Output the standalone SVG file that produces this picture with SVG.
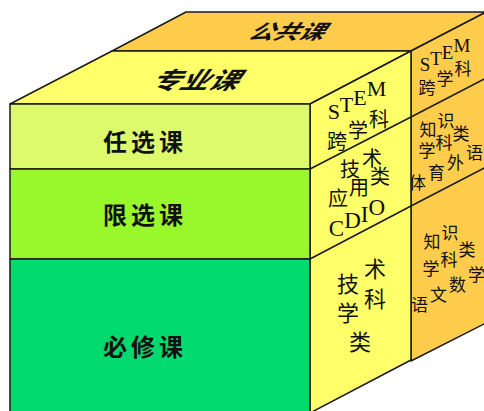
<svg xmlns="http://www.w3.org/2000/svg" width="484" height="411" viewBox="0 0 484 411">
<style>
.edge{stroke:#1a1a1a;stroke-width:1.5;stroke-linejoin:round}
.or{fill:#FFCC4C}
.ye{fill:#FFFF6A}
.cjk{font-family:"Noto Sans CJK SC","Noto Sans CJK TC",sans-serif;fill:#111}
.ser{font-family:"Liberation Serif","Noto Sans CJK SC",serif;fill:#111}
.front{font-family:"Noto Sans CJK SC",sans-serif;font-weight:bold;font-size:24px;letter-spacing:4px;fill:#111}
.side{font-size:20px}
.oside{font-size:17px}
</style>
<rect width="484" height="411" fill="#ffffff"/>
<g id="public-course">
  <polygon class="or edge" points="112,51 186,12 486,12 411,51"/>
  <polygon class="or edge" points="411,51 486,12 486,323 411,361"/>
  <text class="cjk" font-size="25" font-weight="bold" text-anchor="middle" dominant-baseline="central" transform="matrix(1,0,-0.6,0.8,291,30)">公共课</text>
</g>
<g id="public-stem">
  <text class="ser" font-size="19" text-anchor="middle" dominant-baseline="central" x="425 436.1 447.6 461.9" y="64.5 58.7 52.6 45.1">STEM</text>
  <text class="cjk oside" text-anchor="middle" dominant-baseline="central" x="427 445 463" y="86.5 77 67.6">跨学科</text>
</g>
<g id="public-knowledge-1">
  <text class="cjk oside" text-anchor="middle" dominant-baseline="central" x="428 446" y="128.7 119.3">知识</text>
  <text class="cjk oside" text-anchor="middle" dominant-baseline="central" x="427 444 461" y="149.9 141 132.1">学科类</text>
  <text class="cjk oside" text-anchor="middle" dominant-baseline="central" x="417.5 436.5 455.5 474.5" y="181 171 161 151">体育外语</text>
</g>
<g id="public-knowledge-2">
  <text class="cjk oside" text-anchor="middle" dominant-baseline="central" x="432 450" y="240.7 231.3">知识</text>
  <text class="cjk oside" text-anchor="middle" dominant-baseline="central" x="431 449 467" y="267.5 258 248.6">学科类</text>
  <text class="cjk oside" text-anchor="middle" dominant-baseline="central" x="419.5 438.5 457.5 476.5" y="303 293 283 273">语文数学</text>
</g>
<g id="major-course">
  <polygon class="ye edge" points="10,104 112,51 411,51 310,104"/>
  <polygon class="ye edge" points="310,104 411,51 411,360 310,413"/>
  <text class="cjk" font-size="29" font-weight="bold" text-anchor="middle" dominant-baseline="central" transform="matrix(1,0,-0.6,0.82,200,78)">专业课</text>
</g>
<g id="major-stem">
  <text class="ser" font-size="22" text-anchor="middle" dominant-baseline="central" x="333.8 346.6 360 376.5" y="111.2 104.5 97.4 88.8">STEM</text>
  <text class="cjk side" text-anchor="middle" dominant-baseline="central" x="337 358 379" y="140 129 118">跨学科</text>
</g>
<g id="major-tech-app">
  <text class="cjk side" text-anchor="middle" dominant-baseline="central" x="350 372" y="168.8 157.2">技术</text>
  <text class="cjk side" text-anchor="middle" dominant-baseline="central" x="338 359 380" y="197 186 175">应用类</text>
  <text class="ser" font-size="23" text-anchor="middle" dominant-baseline="central" x="336.5 352.5 364.6 376.8" y="228.8 220.4 214 207.6">CDIO</text>
</g>
<g id="major-tech-sci">
  <text class="cjk" font-size="22" text-anchor="middle" dominant-baseline="central" x="348 375" y="282 267">技术</text>
  <text class="cjk" font-size="22" text-anchor="middle" dominant-baseline="central" x="348 375" y="311 297">学科</text>
  <text class="cjk" font-size="22" text-anchor="middle" dominant-baseline="central" x="360" y="340">类</text>
</g>
<g id="elective">
  <rect class="edge" x="10" y="104" width="300" height="65" fill="#DCFA6C"/>
  <text class="front" x="145" y="140" text-anchor="middle" dominant-baseline="central">任选课</text>
</g>
<g id="limited-elective">
  <rect class="edge" x="10" y="169" width="300" height="90" fill="#98F82C"/>
  <text class="front" x="145" y="213" text-anchor="middle" dominant-baseline="central">限选课</text>
</g>
<g id="compulsory">
  <rect class="edge" x="10" y="259" width="300" height="154" fill="#00DA6E"/>
  <text class="front" x="145" y="345" text-anchor="middle" dominant-baseline="central">必修课</text>
</g>
<g id="connectors" class="edge" fill="none">
  <line x1="310" y1="169" x2="411" y2="117"/>
  <line x1="310" y1="259" x2="411" y2="206"/>
  <line x1="411" y1="117" x2="486" y2="78"/>
  <line x1="411" y1="206" x2="486" y2="167"/>
</g>
</svg>
